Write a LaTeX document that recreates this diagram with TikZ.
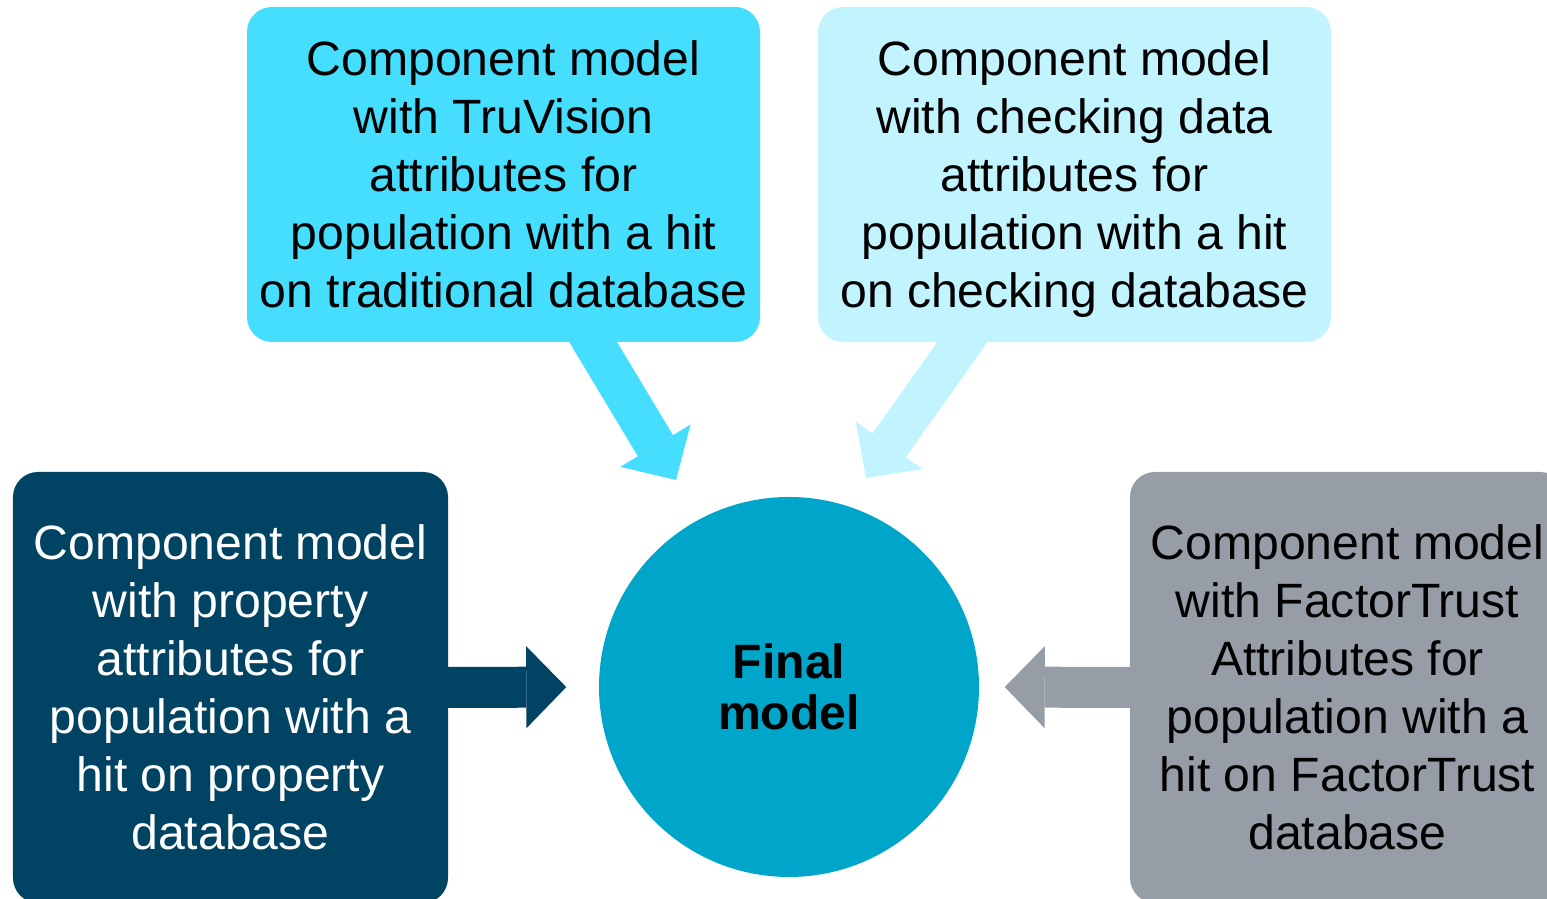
\documentclass[tikz,border=0pt]{standalone}
\usepackage{fontspec}
\setmainfont{Liberation Sans}
\usetikzlibrary{arrows.meta,backgrounds}
\definecolor{tvcyan}{HTML}{46DEFF}
\definecolor{chkcyan}{HTML}{C1F4FF}
\definecolor{propnavy}{HTML}{004362}
\definecolor{ftgrey}{HTML}{979DA6}
\definecolor{finalblue}{HTML}{00A6CA}
\tikzset{
  compbox/.style={rounded corners=0.25cm,inner sep=0pt,align=center,text depth=0pt,font=\fontsize{13.7}{16.5}\selectfont},
  fatarrow/.style={line width=0.41cm,-{Triangle[length=0.40cm,width=0.82cm,line width=0pt]}}
}

\begin{document}
\begin{tikzpicture}
\useasboundingbox (0,0) rectangle (15.47,8.99);
\clip (0,0) rectangle (15.47,8.99);
\node[compbox,fill=tvcyan,minimum width=5.13cm,minimum height=3.35cm] (tv) at (5.035,7.245)
  {Component model\\with TruVision\\attributes for\\population with a hit\\on traditional database};
\node[compbox,fill=chkcyan,minimum width=5.13cm,minimum height=3.35cm] (chk) at (10.745,7.245)
  {Component model\\with checking data\\attributes for\\population with a hit\\on checking database};
\node[compbox,fill=propnavy,text=white,minimum width=4.35cm,minimum height=4.31cm] (prop) at (2.305,2.115)
  {Component model\\with property\\attributes for\\population with a\\hit on property\\database};
\node[compbox,fill=ftgrey,minimum width=4.35cm,minimum height=4.31cm] (ft) at (13.475,2.115)
  {Component model\\with FactorTrust\\Attributes for\\population with a\\hit on FactorTrust\\database};
\node[circle,fill=finalblue,minimum size=3.80cm,inner sep=0pt,align=center,
  font=\fontsize{13.7}{14.4}\selectfont\bfseries] (final) at (7.89,2.12) {Final\\model};
\coordinate (tvtip) at (6.76,4.19);
\coordinate (chktip) at (8.66,4.21);
\begin{scope}[on background layer]
  \draw[fatarrow,tvcyan,shorten <=-0.3cm] ([xshift=0.9cm]tv.south) -- (tvtip);
  \draw[fatarrow,chkcyan,shorten <=-0.3cm] ([xshift=-1.125cm]chk.south) -- (chktip);
  \draw[fatarrow,propnavy,shorten <=-0.3cm,shorten >=0.32cm] (prop.east) -- (final.west);
  \draw[fatarrow,ftgrey,shorten <=-0.3cm,shorten >=0.25cm] (ft.west) -- (final.east);
\end{scope}
\end{tikzpicture}
\end{document}
